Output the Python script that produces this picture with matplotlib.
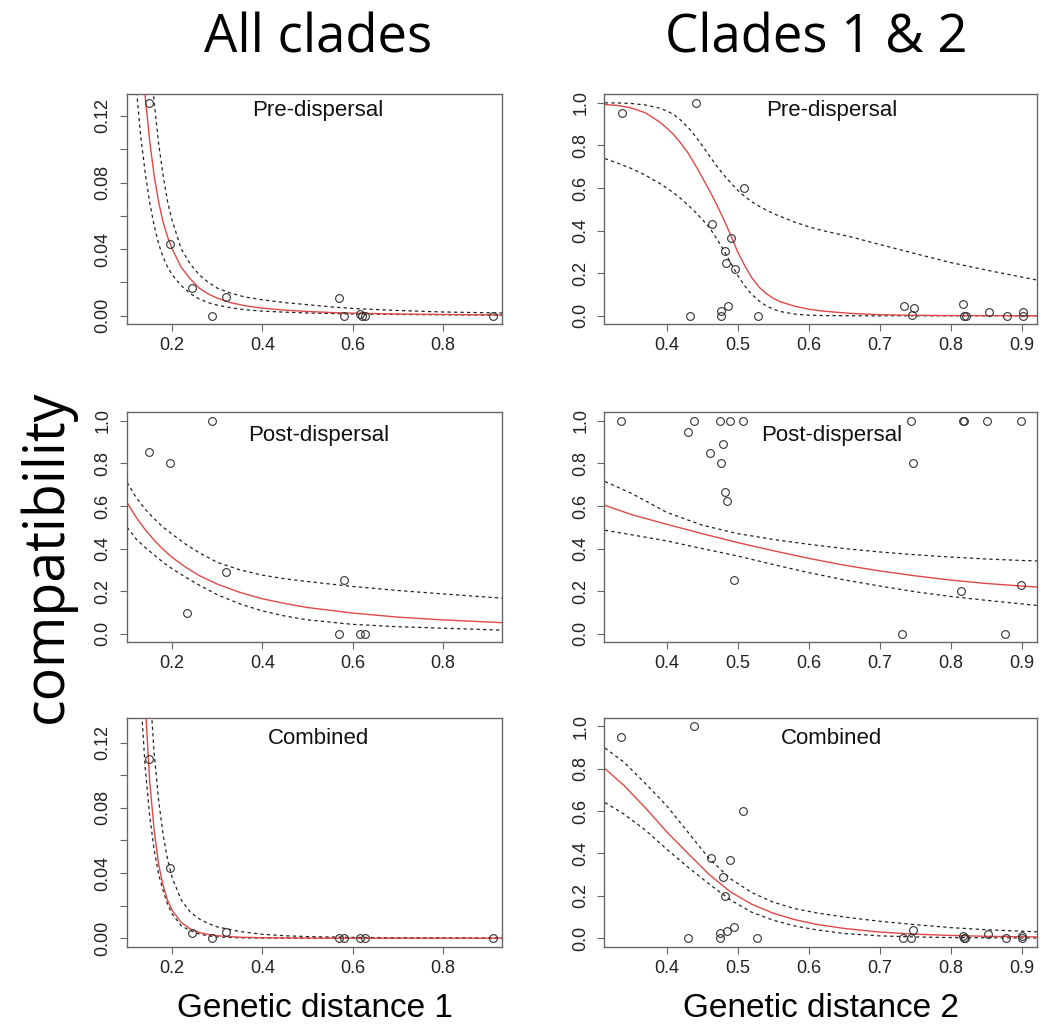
import matplotlib
matplotlib.use("Agg")
import matplotlib.pyplot as plt

plt.rcParams["font.family"] = ["Liberation Sans", "DejaVu Sans"]

# ---- All clades: genetic distance 1 ----
gd1_pre_x = [0.149, 0.195, 0.244, 0.288, 0.320, 0.569, 0.581, 0.617, 0.621, 0.628, 0.910]
gd1_pre_y = [0.128, 0.043, 0.0165, 0.0, 0.0115, 0.0109, 0.0, 0.0012, 0.0, 0.0, 0.0]
gd1_post_x = [0.149, 0.195, 0.233, 0.288, 0.320, 0.569, 0.581, 0.617, 0.628]
gd1_post_y = [0.854, 0.80, 0.099, 1.0, 0.29, 0.0, 0.251, 0.0, 0.0]
gd1_comb_x = [0.149, 0.195, 0.244, 0.288, 0.320, 0.569, 0.581, 0.617, 0.628, 0.910]
gd1_comb_y = [0.110, 0.043, 0.003, 0.0, 0.0039, 0.0, 0.0, 0.0, 0.0, 0.0]

# fitted curves and bounds
gd1_pre_cx = [0.11, 0.12, 0.13, 0.14, 0.15, 0.16, 0.17, 0.18, 0.19, 0.20, 0.22, 0.24,
              0.26, 0.28, 0.30, 0.33, 0.36, 0.40, 0.45, 0.50, 0.55, 0.60, 0.70, 0.80, 0.931]
gd1_pre_fit = [0.30, 0.224, 0.171, 0.132, 0.105, 0.084, 0.068, 0.056, 0.047, 0.040, 0.029, 0.022,
               0.0165, 0.013, 0.0105, 0.0078, 0.006, 0.0045, 0.0033, 0.0025, 0.0019, 0.0015,
               0.0010, 0.0007, 0.0004]
gd1_pre_hi = [0.51, 0.368, 0.274, 0.209, 0.162, 0.128, 0.103, 0.084, 0.068, 0.057, 0.040, 0.031,
              0.0245, 0.020, 0.0165, 0.0135, 0.0113, 0.0095, 0.0078, 0.0066, 0.0053, 0.0043,
              0.0031, 0.0022, 0.0016]
gd1_pre_lo = [0.185, 0.138, 0.108, 0.086, 0.068, 0.054, 0.043, 0.035, 0.029, 0.0245, 0.018, 0.0132,
              0.010, 0.0078, 0.0063, 0.0047, 0.0036, 0.0027, 0.0021, 0.0016, 0.0013, 0.0010,
              0.0007, 0.0005, 0.0003]

gd1_post_cx = [0.10, 0.12, 0.14, 0.16, 0.18, 0.20, 0.23, 0.26, 0.30, 0.35, 0.40, 0.45, 0.50,
               0.60, 0.70, 0.80, 0.931]
gd1_post_fit = [0.615, 0.547, 0.489, 0.439, 0.396, 0.358, 0.312, 0.273, 0.233, 0.194, 0.164,
                0.142, 0.123, 0.097, 0.078, 0.065, 0.052]
gd1_post_hi = [0.71, 0.64, 0.585, 0.54, 0.50, 0.467, 0.42, 0.38, 0.335, 0.30, 0.275, 0.258,
               0.245, 0.222, 0.203, 0.187, 0.167]
gd1_post_lo = [0.50, 0.445, 0.405, 0.37, 0.335, 0.305, 0.265, 0.228, 0.183, 0.14, 0.107, 0.083,
               0.065, 0.044, 0.033, 0.026, 0.017]

gd1_comb_cx = [0.11, 0.12, 0.13, 0.14, 0.15, 0.16, 0.17, 0.18, 0.19, 0.20, 0.22, 0.24, 0.26,
               0.28, 0.30, 0.35, 0.40, 0.45, 0.50, 0.60, 0.70, 0.80, 0.931]
gd1_comb_fit = [0.617, 0.366, 0.226, 0.145, 0.096, 0.066, 0.045, 0.032, 0.023, 0.017, 0.0096,
                0.0057, 0.0035, 0.0023, 0.0015, 0.0006, 0.0003, 0.0002, 0.0001, 0.0, 0.0, 0.0, 0.0]
gd1_comb_hi = [0.71, 0.465, 0.313, 0.217, 0.155, 0.113, 0.084, 0.063, 0.048, 0.037, 0.0234,
               0.016, 0.0118, 0.009, 0.0069, 0.0041, 0.0024, 0.0015, 0.001, 0.0005, 0.0003,
               0.0002, 0.0001]
gd1_comb_lo = [0.32, 0.214, 0.148, 0.105, 0.075, 0.054, 0.039, 0.029, 0.0205, 0.0148, 0.0076,
               0.0046, 0.0026, 0.0014, 0.0008, 0.0002, 0.0001, 0.0, 0.0, 0.0, 0.0, 0.0, 0.0]

# ---- Clades 1 & 2: genetic distance 2 ----
gd2_pre_x = [0.3366, 0.4408, 0.4324, 0.4634, 0.477, 0.477, 0.4817, 0.483, 0.4864, 0.4906,
             0.4962, 0.509, 0.5286, 0.7343, 0.746, 0.7488, 0.8174, 0.8192, 0.821, 0.854,
             0.879, 0.9014, 0.9014]
gd2_pre_y = [0.951, 1.0, 0.0, 0.432, 0.024, 0.0, 0.306, 0.25, 0.044, 0.366,
             0.221, 0.60, 0.0, 0.047, 0.002, 0.036, 0.053, 0.0, 0.0, 0.02,
             0.0, 0.02, 0.0]
gd2_post_x = [0.3353, 0.4305, 0.439, 0.4614, 0.4754, 0.4759, 0.4797, 0.4815, 0.4843, 0.4886,
              0.4942, 0.5073, 0.7313, 0.7435, 0.7468, 0.8147, 0.818, 0.8194, 0.8513, 0.8766,
              0.899, 0.899]
gd2_post_y = [1.0, 0.947, 1.0, 0.851, 1.0, 0.80, 0.889, 0.666, 0.624, 1.0,
              0.251, 1.0, 0.0, 1.0, 0.80, 0.20, 1.0, 1.0, 1.0, 0.0,
              1.0, 0.23]
gd2_comb_x = [0.3357, 0.439, 0.4305, 0.462, 0.4756, 0.4756, 0.48, 0.4817, 0.4845, 0.489,
              0.4944, 0.5075, 0.527, 0.7324, 0.744, 0.7474, 0.8169, 0.8188, 0.8207, 0.8526,
              0.8775, 0.9005, 0.9005]
gd2_comb_y = [0.95, 1.0, 0.0, 0.378, 0.025, 0.0, 0.288, 0.197, 0.033, 0.367,
              0.053, 0.60, 0.0, 0.0, 0.003, 0.038, 0.01, 0.0, 0.0, 0.022,
              0.0, 0.012, 0.0]

gd2_pre_cx = [0.313, 0.33, 0.35, 0.37, 0.39, 0.40, 0.41, 0.42, 0.43, 0.44, 0.45, 0.46, 0.47,
              0.48, 0.49, 0.50, 0.51, 0.52, 0.53, 0.54, 0.55, 0.56, 0.58, 0.60, 0.62, 0.66,
              0.70, 0.75, 0.80, 0.86, 0.9215]
gd2_pre_fit = [0.992, 0.988, 0.976, 0.953, 0.91, 0.882, 0.85, 0.81, 0.765, 0.71, 0.65, 0.59,
               0.525, 0.455, 0.38, 0.30, 0.235, 0.178, 0.135, 0.105, 0.082, 0.066, 0.045,
               0.031, 0.022, 0.011, 0.005, 0.002, 0.001, 0.0005, 0.0002]
gd2_pre_hi = [1.0, 0.9995, 0.997, 0.99, 0.975, 0.962, 0.945, 0.918, 0.885, 0.845, 0.80, 0.752,
              0.705, 0.663, 0.625, 0.59, 0.56, 0.535, 0.515, 0.497, 0.48, 0.467, 0.44,
              0.418, 0.40, 0.37, 0.335, 0.292, 0.25, 0.208, 0.168]
gd2_pre_lo = [0.738, 0.718, 0.692, 0.66, 0.622, 0.60, 0.577, 0.55, 0.52, 0.488, 0.453, 0.415,
              0.365, 0.31, 0.25, 0.19, 0.14, 0.10, 0.07, 0.047, 0.031, 0.02, 0.008,
              0.003, 0.001, 0.0, 0.0, 0.0, 0.0, 0.0, 0.0]

gd2_post_cx = [0.313, 0.35, 0.40, 0.45, 0.50, 0.55, 0.60, 0.65, 0.70, 0.75, 0.80, 0.85, 0.90,
               0.9215]
gd2_post_fit = [0.603, 0.56, 0.514, 0.47, 0.428, 0.39, 0.354, 0.322, 0.295, 0.272, 0.252, 0.236,
                0.224, 0.219]
gd2_post_hi = [0.715, 0.66, 0.57, 0.51, 0.47, 0.443, 0.42, 0.40, 0.384, 0.371, 0.36, 0.351,
               0.344, 0.342]
gd2_post_lo = [0.486, 0.465, 0.436, 0.40, 0.365, 0.325, 0.287, 0.253, 0.224, 0.197, 0.175, 0.157,
               0.14, 0.133]

gd2_comb_cx = [0.313, 0.34, 0.37, 0.40, 0.43, 0.46, 0.49, 0.52, 0.55, 0.58, 0.61, 0.65, 0.70,
               0.75, 0.80, 0.85, 0.9215]
gd2_comb_fit = [0.80, 0.72, 0.615, 0.502, 0.40, 0.30, 0.218, 0.16, 0.118, 0.088, 0.066, 0.046,
                0.029, 0.019, 0.013, 0.009, 0.006]
gd2_comb_hi = [0.897, 0.83, 0.73, 0.625, 0.50, 0.375, 0.28, 0.215, 0.17, 0.14, 0.12, 0.10,
               0.08, 0.064, 0.05, 0.04, 0.03]
gd2_comb_lo = [0.64, 0.585, 0.51, 0.42, 0.335, 0.255, 0.18, 0.122, 0.085, 0.058, 0.04, 0.022,
               0.011, 0.006, 0.003, 0.002, 0.001]

small_ticks = [0.0, 0.02, 0.04, 0.06, 0.08, 0.10, 0.12]
small_labels = ["0.00", "", "0.04", "", "0.08", "", "0.12"]
unit_ticks = [0.0, 0.2, 0.4, 0.6, 0.8, 1.0]
unit_labels = ["0.0", "0.2", "0.4", "0.6", "0.8", "1.0"]
gd1_ticks = [0.2, 0.4, 0.6, 0.8]
gd2_ticks = [0.4, 0.5, 0.6, 0.7, 0.8, 0.9]

BOX = "#666666"


def draw_panel(ax, px, py, cx, fit, lo, hi, title, title_y, xlim, ylim,
               xticks, yticks, ylabels, title_x):
    ax.plot(cx, hi, color="#222222", lw=0.9, dashes=(2.6, 2.6))
    ax.plot(cx, lo, color="#222222", lw=0.9, dashes=(2.6, 2.6))
    ax.plot(cx, fit, color="#e04848", lw=1.0)
    ax.plot(px, py, "o", mfc="none", mec="#333333", ms=5.6, mew=0.8)
    ax.set_xlim(*xlim)
    ax.set_ylim(*ylim)
    ax.set_xticks(xticks)
    ax.set_xticklabels([f"{t:g}" for t in xticks])
    ax.set_yticks(yticks)
    ax.set_yticklabels(ylabels, rotation=90, va="center")
    ax.tick_params(direction="out", length=5, width=0.8, color=BOX,
                   labelsize=13, labelcolor="#222222")
    ax.tick_params(axis="x", pad=4.5)
    ax.tick_params(axis="y", pad=6)
    for sp in ax.spines.values():
        sp.set_color(BOX)
        sp.set_linewidth(1.0)
    ax.text(title_x, title_y, title, transform=ax.transAxes, ha="center",
            va="baseline", fontsize=16, color="#111111")


fig = plt.figure(figsize=(10.46, 10.24), dpi=100)

left_x, left_w = 0.1214, 0.3585
right_x, right_w = 0.5779, 0.4135
rows = [(0.6833, 0.2246), (0.3728, 0.2246), (0.0755, 0.2236)]
title_pos = [0.904, 0.874, 0.885]

xl1 = (0.0997, 0.9307)
xl2 = (0.3124, 0.9216)

panels = [
    (0, "left", gd1_pre_x, gd1_pre_y, gd1_pre_cx, gd1_pre_fit, gd1_pre_lo, gd1_pre_hi,
     "Pre-dispersal", xl1, (-0.0052, 0.1330), gd1_ticks, small_ticks, small_labels),
    (1, "left", gd1_post_x, gd1_post_y, gd1_post_cx, gd1_post_fit, gd1_post_lo, gd1_post_hi,
     "Post-dispersal", xl1, (-0.04, 1.04), gd1_ticks, unit_ticks, unit_labels),
    (2, "left", gd1_comb_x, gd1_comb_y, gd1_comb_cx, gd1_comb_fit, gd1_comb_lo, gd1_comb_hi,
     "Combined", xl1, (-0.0052, 0.1352), gd1_ticks, small_ticks, small_labels),
    (0, "right", gd2_pre_x, gd2_pre_y, gd2_pre_cx, gd2_pre_fit, gd2_pre_lo, gd2_pre_hi,
     "Pre-dispersal", xl2, (-0.04, 1.04), gd2_ticks, unit_ticks, unit_labels),
    (1, "right", gd2_post_x, gd2_post_y, gd2_post_cx, gd2_post_fit, gd2_post_lo, gd2_post_hi,
     "Post-dispersal", xl2, (-0.04, 1.04), gd2_ticks, unit_ticks, unit_labels),
    (2, "right", gd2_comb_x, gd2_comb_y, gd2_comb_cx, gd2_comb_fit, gd2_comb_lo, gd2_comb_hi,
     "Combined", xl2, (-0.04, 1.04), gd2_ticks, unit_ticks, unit_labels),
]

for row, col, px, py, cx, fit, lo, hi, title, xlim, ylim, xt, yt, yl in panels:
    bottom, height = rows[row]
    if col == "left":
        ax = fig.add_axes([left_x, bottom, left_w, height])
        tx = 0.51
    else:
        ax = fig.add_axes([right_x, bottom, right_w, height])
        tx = 0.525
    draw_panel(ax, px, py, cx, fit, lo, hi, title, title_pos[row], xlim, ylim,
               xt, yt, yl, tx)

head_font = ["Open Sans", "DejaVu Sans"]
fig.text(0.3045, 0.949, "All clades", ha="center", va="baseline",
         fontsize=38, family=head_font)
fig.text(0.78, 0.949, "Clades 1 & 2", ha="center", va="baseline",
         fontsize=38, family=head_font)
fig.text(0.045, 0.457, "compatibility", ha="center", va="center", rotation=90,
         fontsize=40, family=head_font)
fig.text(left_x + left_w / 2, 0.007, "Genetic distance 1", ha="center",
         va="baseline", fontsize=24)
fig.text(right_x + right_w / 2, 0.007, "Genetic distance 2", ha="center",
         va="baseline", fontsize=24)

fig.savefig("out.png", dpi=100)
